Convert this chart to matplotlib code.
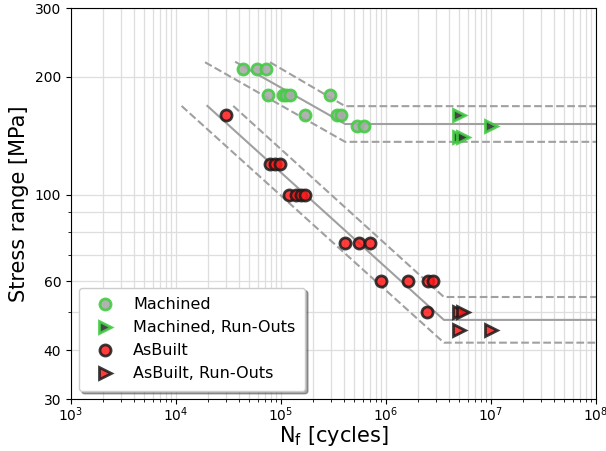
import numpy as np
import matplotlib
matplotlib.use('Agg')
from matplotlib import pyplot as plt
from matplotlib.ticker import ScalarFormatter, NullFormatter

# fatigue test results, N in cycles, S in MPa
mach_N = [43500, 59000, 72000, 75000, 104500, 112000, 122000, 293000,
          169000, 341000, 373000, 530000, 617000]
mach_S = [210, 210, 210, 180, 180, 180, 180, 180,
          160, 160, 160, 150, 150]
mach_ro_N = [5.0e6, 1.0e7, 5.0e6, 5.4e6]
mach_ro_S = [160, 150, 140, 140]

asb_N = [30000, 78000, 88000, 98000, 119000, 139000, 155000, 169000,
         408000, 553000, 705000, 900000, 1.62e6, 2.5e6, 2.8e6, 2.46e6]
asb_S = [160, 120, 120, 120, 100, 100, 100, 100,
         75, 75, 75, 60, 60, 60, 60, 50]
asb_ro_N = [5.0e6, 5.4e6, 5.0e6, 1.0e7]
asb_ro_S = [50, 50, 45, 45]

# S-N curves (mean, upper, lower): start, knee, end
mach_mean_N = [37300, 408000, 1e8]
mach_mean_S = [218, 151.5, 151.5]
mach_up_N = [78500, 408000, 1e8]
mach_up_S = [218, 168.3, 168.3]
mach_lo_N = [18900, 408000, 1e8]
mach_lo_S = [218, 136.4, 136.4]

asb_mean_N = [19900, 3.56e6, 1e8]
asb_mean_S = [168.5, 47.8, 47.8]
asb_up_N = [35100, 3.56e6, 1e8]
asb_up_S = [168.5, 54.7, 54.7]
asb_lo_N = [11300, 3.56e6, 1e8]
asb_lo_S = [168.5, 41.8, 41.8]

yticks = [30, 40, 60, 100, 200, 300]

fig = plt.figure(figsize=(6.06, 4.51), dpi=100)
ax = fig.add_axes([71/606, 1-399/451, 525/606, 391/451])

lc = '#a0a0a0'
for N, S, ls in [(mach_mean_N, mach_mean_S, '-'), (mach_up_N, mach_up_S, '--'),
                 (mach_lo_N, mach_lo_S, '--'), (asb_mean_N, asb_mean_S, '-'),
                 (asb_up_N, asb_up_S, '--'), (asb_lo_N, asb_lo_S, '--')]:
    ax.plot(N, S, ls, color=lc, lw=1.5, zorder=2)

green = '#44cc44'
ax.plot(mach_N, mach_S, 'o', ms=8, mfc='#aaaaaa', mec=green, mew=2,
        alpha=0.9, label='Machined', zorder=3)
ax.plot(mach_ro_N, mach_ro_S, '>', ms=9, mfc='#333333', mec=green, mew=2,
        alpha=0.9, label='Machined, Run-Outs', zorder=3)
ax.plot(asb_N, asb_S, 'o', ms=8, mfc='#ff1a1a', mec='#1a1a1a', mew=2,
        alpha=0.85, label='AsBuilt', zorder=3)
ax.plot(asb_ro_N, asb_ro_S, '>', ms=9, mfc='#ff1a1a', mec='#1a1a1a', mew=2,
        alpha=0.85, label='AsBuilt, Run-Outs', zorder=3)

ax.set_xscale('log')
ax.set_yscale('log')
ax.set_xlim(1e3, 1e8)
ax.set_ylim(30, 300)
ax.set_yticks(yticks)
ax.yaxis.set_major_formatter(ScalarFormatter())
ax.yaxis.set_minor_formatter(NullFormatter())
ax.grid(True, which='both', color='#dedede', lw=0.9, zorder=0)
ax.set_axisbelow(True)
ax.tick_params(axis='x', pad=1)

ax.set_xlabel('N$_\\mathrm{f}$ [cycles]', fontsize=15, labelpad=0)
ax.set_ylabel('Stress range [MPa]', fontsize=15)

ax.legend(loc='lower left', fontsize=11.5, shadow=True, borderpad=0.6,
          handletextpad=0.8, labelspacing=0.5, bbox_to_anchor=(0.0, 0.0))

fig.savefig('out.png', dpi=100)
